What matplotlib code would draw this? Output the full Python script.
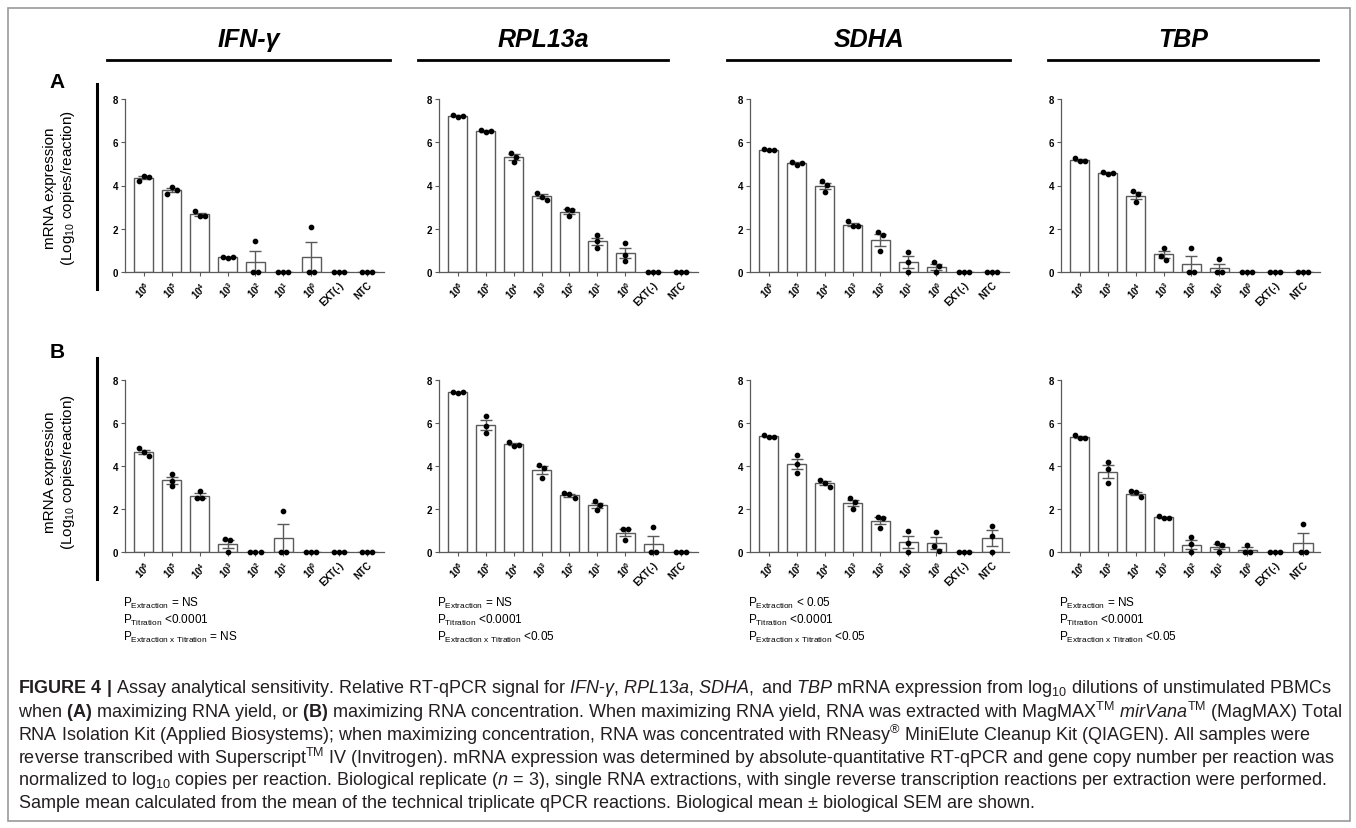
import matplotlib

matplotlib.use("Agg")
import matplotlib.pyplot as plt
import numpy as np
from matplotlib.lines import Line2D
from matplotlib.patches import Rectangle

plt.rcParams["font.family"] = ["Liberation Sans", "DejaVu Sans"]
plt.rcParams["mathtext.fontset"] = "custom"
plt.rcParams["mathtext.rm"] = "Liberation Sans"
plt.rcParams["mathtext.it"] = "Liberation Sans:italic"
plt.rcParams["mathtext.bf"] = "Liberation Sans:bold"
plt.rcParams["mathtext.sf"] = "Liberation Sans"

# ---- data (log10 copies/reaction, biological triplicates) ----
genes = ["IFN-γ", "RPL13a", "SDHA", "TBP"]
tick_labels = [r"$\mathbf{10^{6}}$", r"$\mathbf{10^{5}}$", r"$\mathbf{10^{4}}$",
               r"$\mathbf{10^{3}}$", r"$\mathbf{10^{2}}$", r"$\mathbf{10^{1}}$",
               r"$\mathbf{10^{0}}$", "EXT(-)", "NTC"]

# (A) maximizing RNA yield
ifng_yield = [[4.22, 4.45, 4.38], [3.62, 3.92, 3.80], [2.80, 2.58, 2.60],
              [0.70, 0.65, 0.68], [0.0, 1.45, 0.0], [0.0, 0.0, 0.0],
              [0.0, 2.07, 0.0], [0.0, 0.0, 0.0], [0.0, 0.0, 0.0]]
rpl13a_yield = [[7.26, 7.17, 7.23], [6.57, 6.46, 6.54], [5.51, 5.34, 5.08],
                [3.66, 3.49, 3.34], [2.92, 2.89, 2.58], [1.69, 1.43, 1.12],
                [1.35, 0.77, 0.51], [0.0, 0.0, 0.0], [0.0, 0.0, 0.0]]
sdha_yield = [[5.67, 5.65, 5.65], [5.10, 4.97, 5.04], [4.20, 4.02, 3.72],
              [2.34, 2.11, 2.11], [1.85, 1.69, 0.95], [0.92, 0.46, 0.0],
              [0.46, 0.28, 0.0], [0.0, 0.0, 0.0], [0.0, 0.0, 0.0]]
tbp_yield = [[5.26, 5.15, 5.15], [4.63, 4.54, 4.57], [3.75, 3.59, 3.26],
             [1.12, 0.74, 0.57], [0.0, 1.10, 0.0], [0.0, 0.58, 0.0],
             [0.0, 0.0, 0.0], [0.0, 0.0, 0.0], [0.0, 0.0, 0.0]]

# (B) maximizing RNA concentration
ifng_conc = [[4.83, 4.66, 4.48], [3.63, 3.32, 3.06], [2.86, 2.50, 2.52],
             [0.59, 0.56, 0.0], [0.0, 0.0, 0.0], [0.0, 1.92, 0.0],
             [0.0, 0.0, 0.0], [0.0, 0.0, 0.0], [0.0, 0.0, 0.0]]
rpl13a_conc = [[7.46, 7.40, 7.45], [6.34, 5.85, 5.54], [5.11, 4.94, 4.98],
               [4.06, 3.91, 3.45], [2.74, 2.69, 2.51], [2.35, 2.20, 1.94],
               [1.08, 1.05, 0.55], [0.0, 1.15, 0.0], [0.0, 0.0, 0.0]]
sdha_conc = [[5.44, 5.36, 5.36], [4.50, 4.10, 3.67], [3.34, 3.23, 3.02],
             [2.50, 2.31, 2.00], [1.64, 1.58, 1.12], [0.98, 0.40, 0.0],
             [0.95, 0.28, 0.06], [0.0, 0.0, 0.0], [1.21, 0.74, 0.0]]
tbp_conc = [[5.42, 5.28, 5.28], [4.17, 3.86, 3.20], [2.82, 2.78, 2.55],
            [1.69, 1.57, 1.57], [0.69, 0.35, 0.0], [0.40, 0.32, 0.0],
            [0.0, 0.32, 0.0], [0.0, 0.0, 0.0], [0.0, 1.31, 0.0]]

rows = [[ifng_yield, rpl13a_yield, sdha_yield, tbp_yield],
        [ifng_conc, rpl13a_conc, sdha_conc, tbp_conc]]

p_extraction = ["= NS", "= NS", "< 0.05", "= NS"]
p_titration = ["<0.0001", "<0.0001", "<0.0001", "<0.0001"]
p_interaction = ["= NS", "<0.05", "<0.05", "<0.05"]

caption = [
    r"$\mathbf{FIGURE\ 4\ |}$ Assay analytical sensitivity. Relative RT-qPCR signal for "
    r"$\mathit{IFN}$-$\mathit{\gamma}$, $\mathit{RPL}$$\mathit{13}$$\mathit{a}$, $\mathit{SDHA,}$ and $\mathit{TBP}$ "
    r"mRNA expression from log$_{10}$ dilutions of unstimulated PBMCs",
    r"when $\mathbf{(A)}$ maximizing RNA yield, or $\mathbf{(B)}$ maximizing RNA concentration. "
    r"When maximizing RNA yield, RNA was extracted with MagMAX$^{\mathrm{TM}}$ "
    r"$\mathit{mirVana}^{\mathrm{TM}}$ (MagMAX) Total",
    r"RNA Isolation Kit (Applied Biosystems); when maximizing concentration, RNA was concentrated "
    r"with RNeasy$^{\mathrm{®}}$ MiniElute Cleanup Kit (QIAGEN). All samples were",
    r"reverse transcribed with Superscript$^{\mathrm{TM}}$ IV (Invitrogen). mRNA expression was "
    r"determined by absolute-quantitative RT-qPCR and gene copy number per reaction was",
    r"normalized to log$_{10}$ copies per reaction. Biological replicate ($\mathit{n}$ = 3), single "
    r"RNA extractions, with single reverse transcription reactions per extraction were performed.",
    r"Sample mean calculated from the mean of the technical triplicate qPCR reactions. "
    r"Biological mean $\pm$ biological SEM are shown.",
]

W, H = 1356, 829
fig = plt.figure(figsize=(W / 100, H / 100), dpi=100)


def fx(x):
    return x / W


def fy(y):
    return 1 - y / H


def swarm_offsets(vals, gap=0.23, step=0.18):
    """Spread points of similar height side by side, Prism-like."""
    vals = np.asarray(vals, dtype=float)
    order = np.argsort(-vals, kind="stable")
    groups, cur = [], [order[0]]
    for a, b in zip(order[:-1], order[1:]):
        if vals[a] - vals[b] < gap:
            cur.append(b)
        else:
            groups.append(cur)
            cur = [b]
    groups.append(cur)
    offs = np.zeros(len(vals))
    for g in groups:
        g = sorted(g)
        for k, i in enumerate(g):
            offs[i] = (k - (len(g) - 1) / 2) * step
    return offs


ax_left = [125, 439, 750, 1061]
ax_w = 259
row_top = [100, 381]
row_bot = [273, 553]
edge = "#5a5a5a"

for r, row in enumerate(rows):
    for g, data in enumerate(row):
        ax = fig.add_axes([fx(ax_left[g]), fy(row_bot[r]), ax_w / W,
                           (row_bot[r] - row_top[r]) / H])
        pts = np.array(data, dtype=float)
        x = np.arange(len(tick_labels))
        mean = pts.mean(axis=1)
        sem = pts.std(axis=1, ddof=1) / np.sqrt(pts.shape[1])
        ax.bar(x, mean, width=0.7, color="white", edgecolor=edge, linewidth=1.0, zorder=2)
        ax.errorbar(x, mean, yerr=sem, fmt="none", ecolor=edge, elinewidth=1.0,
                    capsize=4.5, capthick=1.0, zorder=3)
        for i in range(len(x)):
            offs = swarm_offsets(pts[i])
            ax.plot(x[i] + offs, pts[i], "o", color="black", markersize=3.1,
                    zorder=5, clip_on=False)
        ax.set_xlim(-0.67, 8.6)
        ax.set_ylim(0, 8)
        ax.set_yticks([0, 2, 4, 6, 8])
        ax.set_yticklabels(["0", "2", "4", "6", "8"], fontsize=7, fontweight="bold")
        ax.set_xticks(x)
        ax.set_xticklabels(tick_labels, fontsize=7, fontweight="bold", rotation=45,
                           ha="right", rotation_mode="anchor")
        ax.tick_params(length=3, width=0.8, color=edge, pad=2)
        for s in ["top", "right"]:
            ax.spines[s].set_visible(False)
        for s in ["left", "bottom"]:
            ax.spines[s].set_color(edge)
            ax.spines[s].set_linewidth(0.9)
        ax.patch.set_alpha(0)

# gene headers and underlines
header_span = [(107, 390), (418, 668), (727, 1010), (1048, 1318)]
for name, (x0, x1) in zip(genes, header_span):
    fig.text(fx((x0 + x1) / 2), fy(40), name, ha="center", va="center",
             fontsize=18, fontweight="bold", style="italic")
    fig.add_artist(Line2D([fx(x0), fx(x1)], [fy(61), fy(61)], color="black", lw=2))

# panel letters, thick separators, y labels
for letter, ly, (v0, v1), r, lab_y in zip(["A", "B"], [82, 353], [(85, 290), (359, 580)],
                                          [0, 1], [188, 472]):
    fig.text(fx(57), fy(ly), letter, ha="center", va="center", fontsize=15,
             fontweight="bold")
    fig.add_artist(Line2D([fx(97), fx(97)], [fy(v0), fy(v1)], color="black", lw=2.2))
    fig.text(fx(60), fy(lab_y),
             "mRNA expression\n(Log$_{10}$ copies/reaction)", rotation=90,
             ha="center", va="center", fontsize=11, multialignment="center",
             linespacing=1.1)

# two-way ANOVA p values under row B
for g in range(4):
    x0 = fx(ax_left[g] - 2)
    fig.text(x0, fy(603), r"P$_{\mathrm{Extraction}}$ " + p_extraction[g],
             fontsize=8.5, va="center")
    fig.text(x0, fy(620), r"P$_{\mathrm{Titration}}$ " + p_titration[g],
             fontsize=8.5, va="center")
    fig.text(x0, fy(637), r"P$_{\mathrm{Extraction\ x\ Titration}}$ " + p_interaction[g],
             fontsize=8.5, va="center")

# caption
for k, line in enumerate(caption):
    fig.text(fx(18), fy(689 + k * 23), line, fontsize=13.0, va="center",
             color="#231f20")

# outer frame
fig.add_artist(Rectangle((fx(8), fy(822)), (1350 - 8) / W, (822 - 9) / H,
                         transform=fig.transFigure, fill=False,
                         edgecolor="#9a9a9a", lw=1.2))

fig.savefig("out.png", dpi=100)
plt.close(fig)
